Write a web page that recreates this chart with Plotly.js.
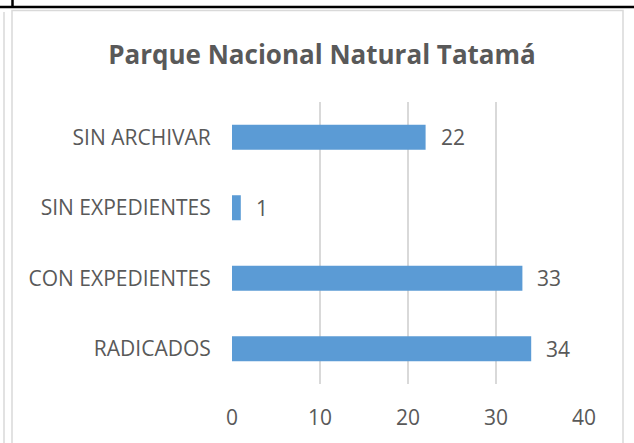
<!DOCTYPE html>
<html><head><meta charset="utf-8">
<script src="https://cdn.plot.ly/plotly-3.0.1.min.js"></script>
<style>body{margin:0;padding:0;background:#fff}#c{width:634px;height:443px}</style>
</head><body><div id="c"></div>
<script>
var categories = ['RADICADOS', 'CON EXPEDIENTES', 'SIN EXPEDIENTES', 'SIN ARCHIVAR'];
var values = [34, 33, 1, 22];
var xTicks = [0, 10, 20, 30, 40];
var chartTitle = 'Parque Nacional Natural Tatamá';

var L = 232, R = 584, T = 102, B = 384, W = 634, H = 443;
function px(x){ return (x - L) / (R - L); }
function py(y){ return (B - y) / (B - T); }
var FONT = '"Open Sans", sans-serif';
var TXT = '#595959';

var shapes = [
  {type:'line', xref:'paper', yref:'paper', x0:px(0), x1:px(634), y0:py(7), y1:py(7), line:{color:'#000', width:2.5}},
  {type:'line', xref:'paper', yref:'paper', x0:px(12.5), x1:px(12.5), y0:py(0), y1:py(8), line:{color:'#000', width:2.5}},
  {type:'rect', xref:'paper', yref:'paper', x0:px(12), x1:px(623), y0:py(10.5), y1:py(450), line:{color:'#D9D9D9', width:1.5}},
  {type:'line', xref:'paper', yref:'paper', x0:px(4), x1:px(4), y0:py(12), y1:py(450), line:{color:'#D9D9D9', width:1.5}}
];

var annotations = categories.map(function(c, i){
  return {x: values[i], y: c, xref:'x', yref:'y', text: String(values[i]), showarrow:false,
    xanchor:'left', xshift: 13, font:{family:FONT, size:21, color:TXT}};
});

var trace = {type:'bar', orientation:'h', y: categories, x: values,
  marker:{color:'#5B9BD5'}, hoverinfo:'none'};

var layout = {
  width: W, height: H,
  margin: {l: L, r: W - R, t: T, b: H - B, pad: 0},
  paper_bgcolor: 'rgba(0,0,0,0)', plot_bgcolor: 'rgba(0,0,0,0)',
  title: {text: '<b>' + chartTitle + '</b>', x: 322/W, xanchor:'center', y: 1 - 55/H, yanchor:'middle',
    font: {family: FONT, size: 26, color: TXT}},
  bargap: 0.645,
  showlegend: false,
  xaxis: {range: [0, 40], tickvals: xTicks, ticktext: xTicks.map(String),
    showgrid: true, gridcolor: '#D9D9D9', gridwidth: 1.3, zeroline: false, showline: false,
    ticks: 'outside', ticklen: 15, tickcolor: 'rgba(0,0,0,0)',
    tickfont: {family: FONT, size: 21, color: TXT}, fixedrange: true},
  yaxis: {type:'category', showgrid: false, zeroline: false, showline: false,
    ticks: 'outside', ticklen: 16, tickcolor: 'rgba(0,0,0,0)',
    tickfont: {family: FONT, size: 21, color: TXT}, fixedrange: true},
  shapes: shapes,
  annotations: annotations
};
Plotly.newPlot('c', [trace], layout, {displayModeBar: false, staticPlot: true});
</script></body></html>
